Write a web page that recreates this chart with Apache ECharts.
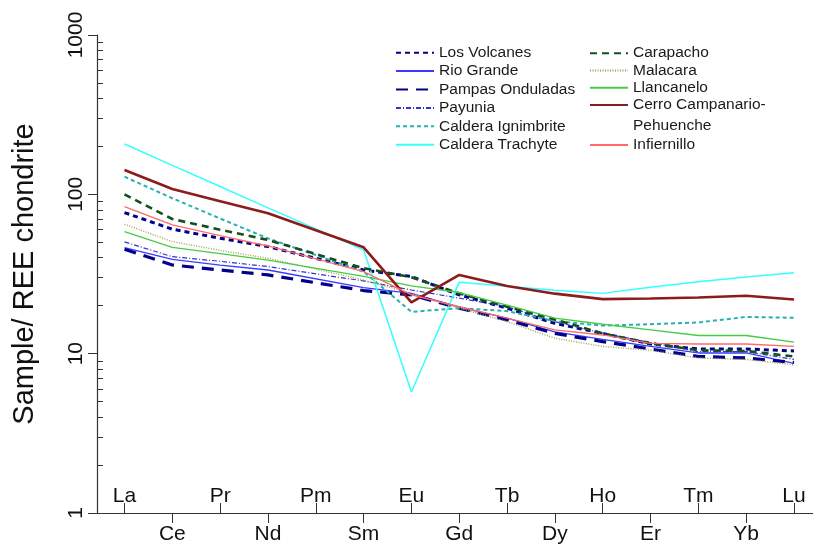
<!DOCTYPE html>
<html>
<head>
<meta charset="utf-8">
<script src="https://cdn.jsdelivr.net/npm/echarts@6/dist/echarts.min.js"></script>
<style>
  html, body { margin: 0; padding: 0; background: #ffffff; }
  #chart { width: 813px; height: 551px; }
</style>
</head>
<body>
<div id="chart"></div>
<script>
// Rare earth elements along the x axis (Pm is not analysed)
const elements = ['La', 'Ce', 'Pr', 'Nd', 'Pm', 'Sm', 'Eu', 'Gd', 'Tb', 'Dy', 'Ho', 'Er', 'Tm', 'Yb', 'Lu'];

// Chondrite-normalised REE values per unit
const losVolcanes      = [76.8, 60.4, 53.0, 47.0, null, 33.5, 30.5, 23.4, 19.3, 15.5, 13.4, 11.5, 10.7, 10.7, 10.4];
const rioGrande        = [46.3, 39.1, 36.0, 33.5, null, 26.0, 23.9, 19.6, 16.7, 13.7, 12.3, 11.1, 10.1, 10.1, 8.7];
const pampasOnduladas  = [45.2, 36.0, 33.5, 31.2, null, 24.9, 23.4, 19.3, 16.3, 13.4, 11.9, 10.7, 9.6, 9.4, 8.8];
const payunia          = [50.3, 40.6, 38.0, 35.2, null, 28.6, 25.1, 22.3, 19.7, 15.9, 13.4, 11.8, 10.3, 10.3, 9.2];
const calderaIgnimbrite= [129, 94.5, 70.5, 52.9, null, 32.7, 18.3, 19.3, 18.5, 16.0, 15.0, 15.3, 15.7, 17.0, 16.8];
const calderaTrachyte  = [207, 152, 112, 82.3, null, 44.8, 5.75, 28.1, 26.5, 25.0, 23.9, 26.1, 28.3, 30.3, 32.2];
const carapacho        = [100, 70.0, 60.0, 51.7, null, 34.4, 30.2, 23.9, 19.7, 16.4, 13.4, 11.6, 10.5, 10.4, 9.6];
const malacara         = [64.9, 50.5, 44.5, 39.7, null, 29.0, 23.9, 19.3, 15.9, 12.5, 11.1, 10.5, 9.4, 9.2, 8.5];
const llancanelo       = [58.3, 46.5, 42.5, 38.7, null, 30.6, 26.6, 24.2, 20.2, 16.7, 15.3, 14.1, 13.0, 13.0, 11.8];
const cerroCampanario  = [142, 108, 90.6, 76.0, null, 46.5, 21.0, 31.2, 26.6, 23.8, 22.0, 22.2, 22.5, 23.1, 21.9];
const infiernillo      = [83.7, 64.3, 55.0, 47.4, null, 32.7, 23.4, 19.7, 16.7, 14.1, 13.1, 11.6, 11.5, 11.5, 11.1];

// Minor log ticks inside the y axis
const minorTickValues = [2, 3, 4, 5, 6, 7, 8, 9, 20, 30, 40, 50, 60, 70, 80, 90, 200, 300, 400, 500, 600, 700, 800, 900];

const FONT = "'Liberation Sans', Arial, sans-serif";
const AXIS_COLOR = '#333333';

const seriesDefs = [
  { name: 'Los Volcanes',        data: losVolcanes,       color: '#00008b', width: 3,   type: [5, 4] },
  { name: 'Rio Grande',          data: rioGrande,         color: '#3a3aff', width: 1.3, type: 'solid' },
  { name: 'Pampas Onduladas',    data: pampasOnduladas,   color: '#00008b', width: 3.2, type: [12, 8] },
  { name: 'Payunia',             data: payunia,           color: '#3333cc', width: 1.2, type: [5, 2, 1, 2] },
  { name: 'Caldera Ignimbrite',  data: calderaIgnimbrite, color: '#26b0b0', width: 2,   type: [4, 3] },
  { name: 'Caldera Trachyte',    data: calderaTrachyte,   color: '#33ffff', width: 1.5, type: 'solid' },
  { name: 'Carapacho',           data: carapacho,         color: '#13501a', width: 2.6, type: [7, 5] },
  { name: 'Malacara',            data: malacara,          color: '#a0a050', width: 1.4, type: [1, 1.5] },
  { name: 'Llancanelo',          data: llancanelo,        color: '#44cc44', width: 1.3, type: 'solid' },
  { name: 'Cerro Campanario-Pehuenche', data: cerroCampanario, color: '#8c1c1c', width: 2.6, type: 'solid' },
  { name: 'Infiernillo',         data: infiernillo,       color: '#ff6b6b', width: 1.3, type: 'solid' }
];

const series = seriesDefs.map(s => ({
  name: s.name,
  type: 'line',
  xAxisIndex: 1,
  yAxisIndex: 2,
  data: s.data,
  connectNulls: true,
  symbol: 'none',
  showSymbol: false,
  silent: true,
  animation: false,
  lineStyle: { color: s.color, width: s.width, type: s.type, cap: 'butt' },
  itemStyle: { color: s.color },
  z: 2
}));

const legendText = { fontFamily: FONT, fontSize: 15.5, color: '#1a1a1a' };
const legendBase = {
  orient: 'vertical',
  padding: 0,
  itemWidth: 38,
  itemHeight: 10,
  itemGap: 0,
  selectedMode: false,
  // line samples only, no marker in the middle
  itemStyle: { opacity: 0, borderWidth: 0 }
};

const chart = echarts.init(document.getElementById('chart'), null, { renderer: 'canvas' });
chart.setOption({
  animation: false,
  backgroundColor: '#ffffff',
  grid: [
    { left: 97, right: 0, top: 35, bottom: 38, containLabel: false },
    { left: 124.5, right: 19, top: 35, bottom: 38, containLabel: false }
  ],
  legend: [
    Object.assign({}, legendBase, {
      left: 395, top: 43.5,
      data: ['Los Volcanes', 'Rio Grande', 'Pampas Onduladas', 'Payunia', 'Caldera Ignimbrite', 'Caldera Trachyte'],
      textStyle: Object.assign({ lineHeight: 18.4 }, legendText)
    }),
    Object.assign({}, legendBase, {
      left: 589, top: 44.5,
      data: ['Carapacho', 'Malacara', 'Llancanelo', 'Cerro Campanario-Pehuenche'],
      formatter: name => name === 'Cerro Campanario-Pehuenche' ? 'Cerro Campanario-' : name,
      textStyle: Object.assign({ lineHeight: 17.3 }, legendText)
    }),
    Object.assign({}, legendBase, {
      left: 589, top: 136,
      data: ['Infiernillo'],
      textStyle: Object.assign({ lineHeight: 18 }, legendText)
    })
  ],
  graphic: [
    {
      type: 'text',
      left: 633, top: 118,
      style: { text: 'Pehuenche', font: "15.5px 'Liberation Sans', Arial, sans-serif", fill: '#1a1a1a' }
    }
  ],
  xAxis: [
    {
      // full-width baseline of the frame
      gridIndex: 0, type: 'value', min: 0, max: 1, position: 'bottom',
      axisLine: { show: true, lineStyle: { color: AXIS_COLOR, width: 1.2 } },
      axisTick: { show: false }, axisLabel: { show: false }, splitLine: { show: false }
    },
    {
      // La, Pr, Pm, Eu, Tb, Ho, Tm, Lu: ticks and labels above the axis
      gridIndex: 1, type: 'category', data: elements, boundaryGap: false, position: 'bottom',
      axisLine: { show: false },
      axisTick: { show: true, inside: true, length: 10, interval: (i) => i % 2 === 0,
                  lineStyle: { color: AXIS_COLOR, width: 1 } },
      axisLabel: { show: true, inside: true, margin: 6, interval: (i) => i % 2 === 0,
                   fontFamily: FONT, fontSize: 21, color: '#111111' },
      splitLine: { show: false }
    },
    {
      // Ce, Nd, Sm, Gd, Dy, Er, Yb: ticks and labels below the axis
      gridIndex: 1, type: 'category', data: elements, boundaryGap: false, position: 'bottom', offset: 0,
      axisLine: { show: false },
      axisTick: { show: true, inside: false, length: 10, interval: (i) => i % 2 === 1,
                  lineStyle: { color: AXIS_COLOR, width: 1 } },
      axisLabel: { show: true, inside: false, margin: 11, interval: (i) => i % 2 === 1,
                   fontFamily: FONT, fontSize: 21, color: '#111111' },
      splitLine: { show: false }
    }
  ],
  yAxis: [
    {
      gridIndex: 0, type: 'log', logBase: 10, min: 1, max: 1000, position: 'left',
      name: 'Sample/ REE chondrite', nameLocation: 'middle', nameRotate: 90, nameGap: 58,
      nameTextStyle: { fontFamily: FONT, fontSize: 29, color: '#111111' },
      axisLine: { show: true, lineStyle: { color: AXIS_COLOR, width: 1.2 } },
      axisTick: { show: true, inside: false, length: 9, lineStyle: { color: AXIS_COLOR, width: 1 } },
      axisLabel: { show: true, rotate: 90, margin: 10, fontFamily: FONT, fontSize: 21, color: '#111111',
                   formatter: v => String(Math.round(v)) },
      splitLine: { show: false }, minorTick: { show: false }
    },
    {
      // minor decade ticks pointing into the plot
      gridIndex: 0, type: 'log', logBase: 10, min: 1, max: 1000, position: 'left',
      axisLine: { show: false },
      axisTick: { show: true, inside: true, length: 6, customValues: minorTickValues,
                  lineStyle: { color: AXIS_COLOR, width: 1 } },
      axisLabel: { show: false },
      splitLine: { show: false }
    },
    {
      gridIndex: 1, type: 'log', logBase: 10, min: 1, max: 1000, show: false,
      splitLine: { show: false }
    }
  ],
  series: series
});
</script>
</body>
</html>
